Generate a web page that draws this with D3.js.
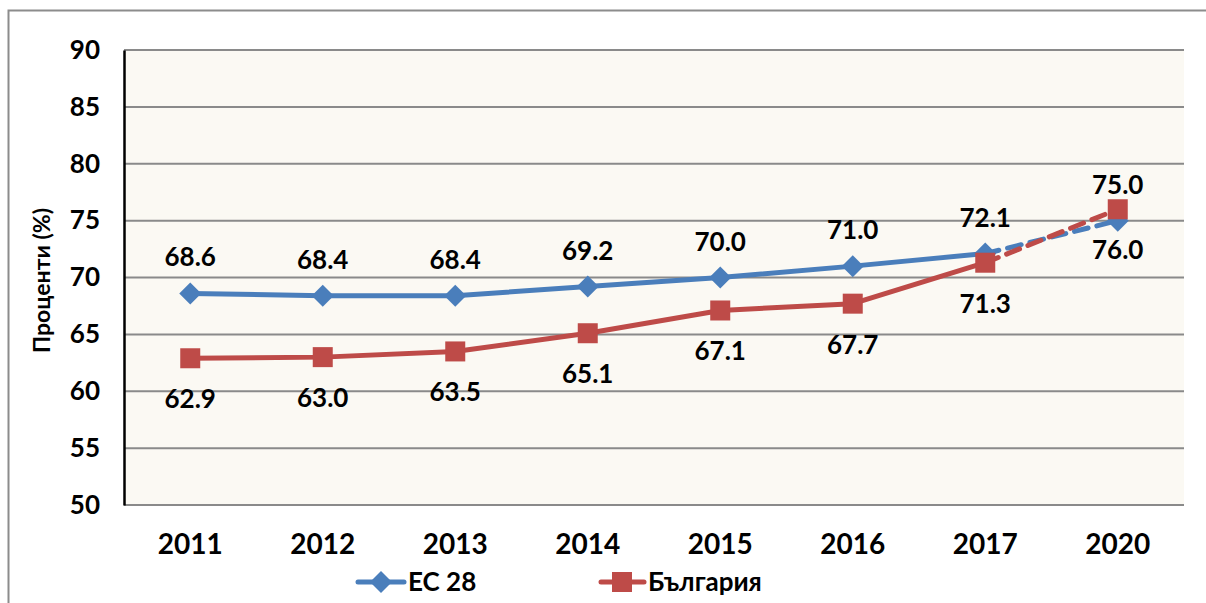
<!DOCTYPE html>
<html><head><meta charset="utf-8">
<script src="https://cdn.jsdelivr.net/npm/d3@7"></script>
<style>body{margin:0;background:#fff;} svg{display:block;}</style>
</head><body>
<svg id="chart" width="1206" height="603"></svg>
<script>
const years = ["2011","2012","2013","2014","2015","2016","2017","2020"];
const euValues = [68.6, 68.4, 68.4, 69.2, 70.0, 71.0, 72.1, 75.0];
const bgValues = [62.9, 63.0, 63.5, 65.1, 67.1, 67.7, 71.3, 76.0];
const yTicks = [50,55,60,65,70,75,80,85,90];
const seriesNames = ["ЕС 28", "България"];

const font = "Lato, 'Open Sans', sans-serif";
const blue = "#4A7EBB", red = "#BE4B48";
const svg = d3.select("#chart");
const L = 124, R = 1184, T = 50, B = 505;

// outer frame
svg.append("path").attr("d", `M8.5,603 V10.5 H1206`).attr("fill","none").attr("stroke","#8c8c8c").attr("stroke-width",2);

const x = d3.scaleBand().domain(years).range([L, R]);
const y = d3.scaleLinear().domain([50, 90]).range([B, T]);

svg.append("rect").attr("x", L).attr("y", T).attr("width", R-L).attr("height", B-T).attr("fill", "#FBF9F3");

// gridlines
svg.append("g").selectAll("line").data(yTicks).join("line")
  .attr("x1", L).attr("x2", R).attr("y1", d=>y(d)).attr("y2", d=>y(d))
  .attr("stroke", "#8a8a8a").attr("stroke-width", 2);

// y axis
const yAxis = d3.axisLeft(y).tickValues(yTicks).tickSize(0).tickPadding(24);
const gy = svg.append("g").attr("transform", `translate(${L},0)`).call(yAxis);
gy.select(".domain").attr("stroke", "#000").attr("stroke-width", 2.5);
gy.selectAll("text").attr("font-family", font).attr("font-weight", "bold").attr("font-size", 26).attr("fill","#000");

// x axis
const xAxis = d3.axisBottom(x).tickSize(0).tickPadding(29);
const gx = svg.append("g").attr("transform", `translate(0,${B})`).call(xAxis);
gx.select(".domain").remove();
gx.selectAll("text").attr("font-family", font).attr("font-weight", "bold").attr("font-size", 28).attr("fill","#000");

// y label
svg.append("text").attr("transform", `translate(50,${(T+B)/2+3}) rotate(-90)`)
  .attr("text-anchor","middle").attr("font-family", font).attr("font-weight","bold").attr("font-size",23)
  .text("Проценти (%)");

const cx = d => x(d) + x.bandwidth()/2;

function drawSeries(vals, color, marker, labelDy) {
  const pts = years.map((yr,i)=>[cx(yr), y(vals[i])]);
  const line = d3.line();
  svg.append("path").attr("d", line(pts.slice(0,7))).attr("fill","none")
    .attr("stroke", color).attr("stroke-width", 5).attr("stroke-linejoin","round").attr("stroke-linecap","round");
  svg.append("path").attr("d", line(pts.slice(6))).attr("fill","none")
    .attr("stroke", color).attr("stroke-width", 5).attr("stroke-dasharray","14,9").attr("stroke-linecap","round");
  pts.forEach(p => marker(p[0], p[1], color));
  svg.append("g").selectAll("text").data(years).join("text")
    .attr("x", d=>cx(d)).attr("y", (d,i)=>y(vals[i]) + labelDy)
    .attr("text-anchor","middle").attr("font-family", font).attr("font-weight","bold").attr("font-size",26)
    .attr("fill","#000").text((d,i)=>vals[i].toFixed(1));
}
function diamond(px, py, color) {
  svg.append("path").attr("d", `M${px},${py-11} L${px+11},${py} L${px},${py+11} L${px-11},${py} Z`).attr("fill", color);
}
function square(px, py, color) {
  svg.append("rect").attr("x", px-10).attr("y", py-10).attr("width",20).attr("height",20).attr("fill", color);
}
drawSeries(euValues, blue, diamond, -27);
drawSeries(bgValues, red, square, 50);

// legend
const ly = 582;
svg.append("line").attr("x1",358).attr("x2",404).attr("y1",ly).attr("y2",ly).attr("stroke",blue).attr("stroke-width",5).attr("stroke-linecap","round");
diamond(381, ly, blue);
svg.append("text").attr("x",408).attr("y",ly+9).attr("font-family",font).attr("font-weight","bold").attr("font-size",26).text(seriesNames[0]);
svg.append("line").attr("x1",601).attr("x2",644).attr("y1",ly).attr("y2",ly).attr("stroke",red).attr("stroke-width",5).attr("stroke-linecap","round");
square(622, ly, red);
svg.append("text").attr("x",648).attr("y",ly+9).attr("font-family",font).attr("font-weight","bold").attr("font-size",26).text(seriesNames[1]);
</script>
</body></html>
